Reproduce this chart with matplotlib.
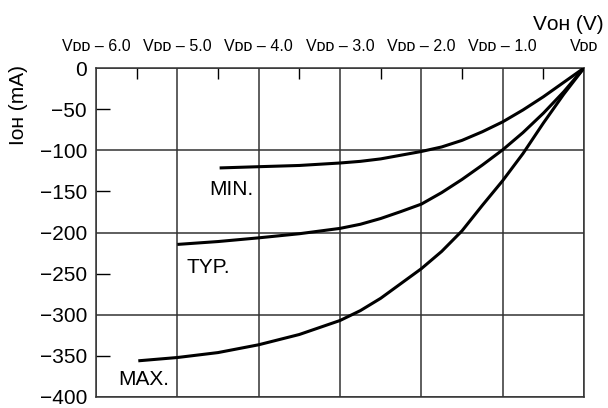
import matplotlib
matplotlib.use("Agg")
import matplotlib.pyplot as plt

# === Data (x = VOH relative to VDD in V, y = IOH in mA) ===
min_v = [-4.48, -4.0, -3.5, -3.0, -2.75, -2.5, -2.25, -2.0, -1.75, -1.5, -1.25, -1.0, -0.75, -0.5, -0.25, 0.0]
min_i = [-121.5, -120.0, -118.5, -115.5, -113.5, -110.5, -106.0, -101.5, -96.0, -88.0, -77.5, -65.5, -51.0, -35.0, -17.5, 0.0]

typ_v = [-5.0, -4.5, -4.0, -3.5, -3.0, -2.75, -2.5, -2.25, -2.0, -1.75, -1.5, -1.25, -1.0, -0.75, -0.5, -0.25, 0.0]
typ_i = [-214.5, -211.0, -206.5, -201.5, -195.0, -190.0, -183.0, -174.5, -165.5, -151.5, -135.5, -118.0, -99.5, -78.5, -55.0, -29.0, 0.0]

max_v = [-5.48, -5.0, -4.5, -4.0, -3.5, -3.0, -2.75, -2.5, -2.25, -2.0, -1.75, -1.5, -1.25, -1.0, -0.75, -0.5, -0.25, 0.0]
max_i = [-356.0, -352.0, -346.0, -336.5, -324.0, -307.0, -295.0, -280.0, -262.0, -244.0, -223.0, -198.0, -167.0, -137.0, -104.0, -67.0, -32.0, 0.0]

x_ticks = [-6, -5, -4, -3, -2, -1, 0]
x_labels = ["Vᴅᴅ – 6.0", "Vᴅᴅ – 5.0", "Vᴅᴅ – 4.0", "Vᴅᴅ – 3.0",
            "Vᴅᴅ – 2.0", "Vᴅᴅ – 1.0", "Vᴅᴅ"]
y_major = [0, -100, -200, -300, -400]
y_minor = [-50, -150, -250, -350]

plt.rcParams['font.family'] = ['Liberation Sans', 'DejaVu Sans']

fig = plt.figure(figsize=(6.08, 4.08), dpi=100)
ax = fig.add_axes([96 / 608, 1 - 397 / 408, 488 / 608, 329 / 408])

# === Curves ===
for v, i in [(min_v, min_i), (typ_v, typ_i), (max_v, max_i)]:
    ax.plot(v, i, color='black', lw=2.2, solid_joinstyle='round', solid_capstyle='butt', zorder=3)

ax.text(-4.61, -155, "MIN.", fontsize=15, va='baseline')
ax.text(-4.89, -249, "TYP.", fontsize=15, va='baseline')
ax.text(-5.73, -386, "MAX.", fontsize=15, va='baseline')

# === Axes / grid ===
ax.set_xlim(-6, 0)
ax.set_ylim(-400, 0)
ax.xaxis.tick_top()
ax.set_xticks(x_ticks)
ax.set_xticklabels(x_labels, fontsize=11.5)
ax.set_xticks([-5.5, -4.5, -3.5, -2.5, -1.5, -0.5], minor=True)

fmt = plt.FuncFormatter(lambda t, p: f"{int(t)}".replace('-', '−'))
ax.set_yticks(y_major)
ax.set_yticks(y_minor, minor=True)
ax.yaxis.set_major_formatter(fmt)
ax.yaxis.set_minor_formatter(fmt)

ax.tick_params(axis='y', which='both', labelsize=15, pad=6.5)
ax.tick_params(axis='y', which='major', length=0)
ax.tick_params(axis='y', which='minor', direction='in', length=10, width=1)
ax.tick_params(axis='x', which='major', length=0, pad=10)
ax.tick_params(axis='x', which='minor', direction='in', length=8, width=1, top=True, bottom=False)

ax.grid(True, which='major', color='#333333', lw=1.1)
for s in ax.spines.values():
    s.set_color('#333333')
    s.set_linewidth(1.1)

fig.text(604 / 608, 1 - 24 / 408, "Vᴏʜ (V)", fontsize=15, ha='right', va='center')
fig.text(19 / 608, 1 - 105 / 408, "Iᴏʜ (mA)", fontsize=15, rotation=90, ha='center', va='center')

fig.savefig("out.png", dpi=100)
